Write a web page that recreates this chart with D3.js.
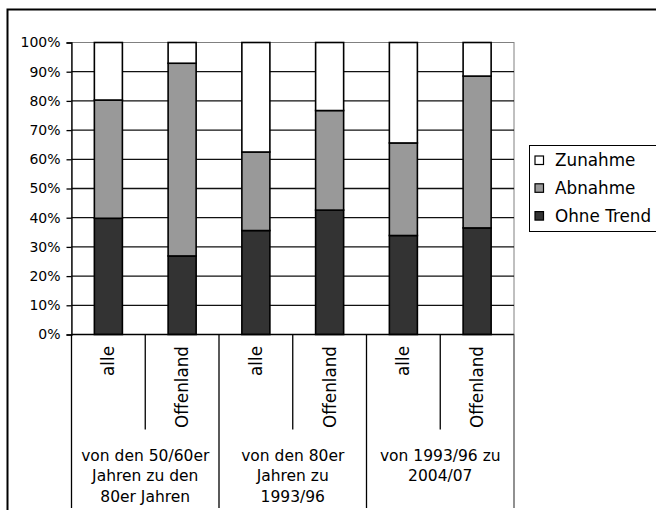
<!DOCTYPE html>
<html>
<head>
<meta charset="utf-8">
<script src="https://cdn.jsdelivr.net/npm/d3@7"></script>
<style>
  html, body { margin: 0; padding: 0; background: #fff; }
  svg { display: block; font-family: "DejaVu Sans", sans-serif; }
</style>
</head>
<body>
<svg id="chart" width="656" height="510"></svg>
<script>
// Sub-categories (one bar each) and the three time periods they belong to
const subCategories = ["alle", "Offenland", "alle", "Offenland", "alle", "Offenland"];
const periodLines = [
  ["von den 50/60er", "Jahren zu den", "80er Jahren"],
  ["von den 80er", "Jahren zu", "1993/96"],
  ["von 1993/96 zu", "2004/07"]
];

// Shares per bar in percent
const ohneTrend = [39.8, 26.9, 35.6, 42.6, 33.9, 36.5];
const abnahme   = [40.5, 66.0, 26.9, 34.1, 31.7, 52.0];
const zunahme   = [19.7,  7.1, 37.5, 23.3, 34.4, 11.5];

const seriesNames = ["Ohne Trend", "Abnahme", "Zunahme"];
const seriesColors = ["#333333", "#999999", "#ffffff"];
const yTicks = [0, 10, 20, 30, 40, 50, 60, 70, 80, 90, 100];

const svg = d3.select("#chart");

// Outer chart frame
svg.append("rect")
  .attr("x", 7.5).attr("y", 9.5)
  .attr("width", 680).attr("height", 540)
  .attr("fill", "#fff")
  .attr("stroke", "#000").attr("stroke-width", 2);

const plotLeft = 71.5, plotRight = 514, plotTop = 42.5, plotBottom = 334.5;

const x = d3.scaleBand()
  .domain(d3.range(subCategories.length))
  .range([plotLeft, plotRight])
  .padding(0);

const y = d3.scaleLinear().domain([0, 100]).range([plotBottom, plotTop]);

// Plot area background and frame
svg.append("rect")
  .attr("x", plotLeft).attr("y", plotTop)
  .attr("width", plotRight - plotLeft).attr("height", plotBottom - plotTop)
  .attr("fill", "#fff")
  .attr("stroke", "#808080").attr("stroke-width", 1);

// Horizontal gridlines
svg.append("g")
  .selectAll("line")
  .data(yTicks.filter(t => t > 0 && t < 100))
  .join("line")
  .attr("x1", plotLeft).attr("x2", plotRight)
  .attr("y1", d => y(d)).attr("y2", d => y(d))
  .attr("stroke", "#111").attr("stroke-width", 1.3);

// Stacked bars
const rows = subCategories.map((c, i) => ({
  i, "Ohne Trend": ohneTrend[i], "Abnahme": abnahme[i], "Zunahme": zunahme[i]
}));
const stacked = d3.stack().keys(seriesNames)(rows);
const barW = x.bandwidth() * 0.38;

svg.append("g")
  .selectAll("g")
  .data(stacked)
  .join("g")
  .attr("fill", (d, k) => seriesColors[k])
  .selectAll("rect")
  .data(d => d)
  .join("rect")
  .attr("x", d => x(d.data.i) + (x.bandwidth() - barW) / 2)
  .attr("width", barW)
  .attr("y", d => y(d[1]))
  .attr("height", d => y(d[0]) - y(d[1]))
  .attr("stroke", "#000").attr("stroke-width", 1.6);

// Y axis
const yAxis = d3.axisLeft(y)
  .tickValues(yTicks)
  .tickSize(5)
  .tickPadding(6)
  .tickFormat(d => d + "%");

const yg = svg.append("g")
  .attr("transform", `translate(${plotLeft},0)`)
  .call(yAxis);
yg.select(".domain").attr("stroke", "#000").attr("stroke-width", 1.3);
yg.selectAll(".tick line").attr("stroke", "#000").attr("stroke-width", 1.3);
yg.selectAll(".tick text")
  .attr("font-size", 14)
  .attr("font-family", "DejaVu Sans, sans-serif")
  .attr("fill", "#000");

// Category axis baseline
svg.append("line")
  .attr("x1", plotLeft).attr("x2", plotRight)
  .attr("y1", plotBottom).attr("y2", plotBottom)
  .attr("stroke", "#000").attr("stroke-width", 1.3);

// Separators: short between bars of a period, long between periods
const boundaries = d3.range(subCategories.length + 1);
svg.append("g")
  .selectAll("line")
  .data(boundaries)
  .join("line")
  .attr("x1", i => i < subCategories.length ? x(i) : plotRight)
  .attr("x2", i => i < subCategories.length ? x(i) : plotRight)
  .attr("y1", plotBottom)
  .attr("y2", i => (i % 2 === 0) ? 508 : 429.5)
  .attr("stroke", i => i === subCategories.length ? "#555" : "#000")
  .attr("stroke-width", 1.3);

// Rotated sub-category labels
svg.append("g")
  .selectAll("text")
  .data(subCategories)
  .join("text")
  .attr("transform", (d, i) => `translate(${x(i) + x.bandwidth() / 2},346) rotate(-90)`)
  .attr("text-anchor", "end")
  .attr("dy", "0.36em")
  .attr("font-size", 16.8)
  .attr("fill", "#000")
  .text(d => d);

// Period labels centred under each pair of bars
const pg = svg.append("g");
periodLines.forEach((lines, g) => {
  const cx = (x(g * 2) + x(g * 2 + 1) + x.bandwidth()) / 2;
  pg.append("text")
    .attr("x", cx)
    .attr("text-anchor", "middle")
    .attr("font-size", 15.5)
    .attr("fill", "#000")
    .selectAll("tspan")
    .data(lines)
    .join("tspan")
    .attr("x", cx)
    .attr("y", (d, k) => 455 + k * 20.8)
    .attr("dy", "0.36em")
    .text(d => d);
});

// Legend
const legend = svg.append("g");
legend.append("rect")
  .attr("x", 529.5).attr("y", 145.5)
  .attr("width", 140).attr("height", 86)
  .attr("fill", "#fff")
  .attr("stroke", "#000").attr("stroke-width", 1);

const legendOrder = ["Zunahme", "Abnahme", "Ohne Trend"];
legendOrder.forEach((name, k) => {
  const cy = 160 + k * 27.8;
  const col = seriesColors[seriesNames.indexOf(name)];
  legend.append("rect")
    .attr("x", 535).attr("y", cy - 4)
    .attr("width", 8.5).attr("height", 8.5)
    .attr("fill", col)
    .attr("stroke", "#000").attr("stroke-width", 1.2);
  legend.append("text")
    .attr("x", 555).attr("y", cy)
    .attr("dy", "0.36em")
    .attr("font-size", 16.8)
    .attr("fill", "#000")
    .text(name);
});
</script>
</body>
</html>
